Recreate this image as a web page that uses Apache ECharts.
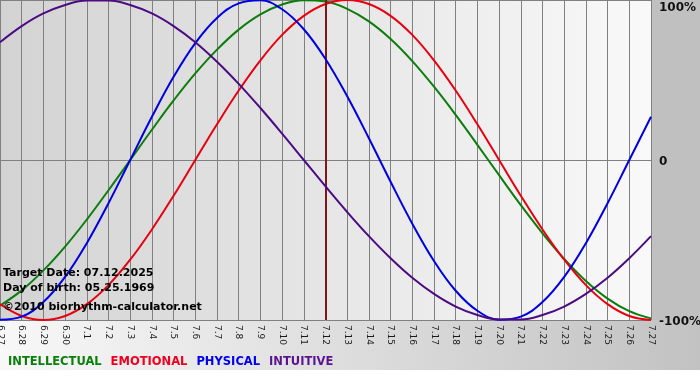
<!DOCTYPE html>
<html><head><meta charset="utf-8">
<script src="https://cdn.jsdelivr.net/npm/echarts@6/dist/echarts.min.js"></script>
<style>html,body{margin:0;padding:0;background:#fff}#c{width:700px;height:380px}</style>
</head><body><div id="c"></div>
<script>
const days = ['6.27','6.28','6.29','6.30','7.1','7.2','7.3','7.4','7.5','7.6','7.7','7.8','7.9','7.10','7.11','7.12','7.13','7.14','7.15','7.16','7.17','7.18','7.19','7.20','7.21','7.22','7.23','7.24','7.25','7.26','7.27'];
const intellectual = [-0.910,-0.815,-0.690,-0.541,-0.372,-0.189,0,0.189,0.372,0.541,0.690,0.815,0.910,0.972,0.999,0.990,0.945,0.866,0.756,0.618,0.458,0.282,0.095,-0.095,-0.282,-0.458,-0.618,-0.756,-0.866,-0.945,-0.990];
const emotional = [-0.901,-0.975,-1,-0.975,-0.901,-0.782,-0.623,-0.434,-0.223,0,0.223,0.434,0.623,0.782,0.901,0.975,1,0.975,0.901,0.782,0.623,0.434,0.223,0,-0.223,-0.434,-0.623,-0.782,-0.901,-0.975,-1];
const physical = [-0.998,-0.979,-0.888,-0.731,-0.520,-0.270,0,0.270,0.520,0.731,0.888,0.979,0.998,0.942,0.817,0.631,0.398,0.136,-0.136,-0.398,-0.631,-0.817,-0.942,-0.998,-0.979,-0.888,-0.731,-0.520,-0.270,0,0.270];
const intuitive = [0.736,0.837,0.916,0.969,0.997,0.997,0.969,0.916,0.837,0.736,0.614,0.476,0.325,0.165,0,-0.165,-0.325,-0.476,-0.614,-0.736,-0.837,-0.916,-0.969,-0.997,-0.997,-0.969,-0.916,-0.837,-0.736,-0.614,-0.476];
const yTickValues = [-1, 0, 1];
const yTickLabels = ['-100%', '0', '100%'];
const seriesNames = ['INTELLECTUAL', 'EMOTIONAL', 'PHYSICAL', 'INTUITIVE'];
const targetDay = '7.12';
const infoLines = ['Target Date: 07.12.2025', 'Day of birth: 05.25.1969', '\u00a92010 biorhythm-calculator.net'];

const lineColors = ['#0c7d0c', '#e80010', '#0000e0', '#4b0c82'];
const legendColors = ['#0a800a', '#f0001e', '#0000f0', '#5a1490'];
const seriesData = [intellectual, emotional, physical, intuitive];

const chart = echarts.init(document.getElementById('c'), null, {renderer: 'canvas'});

const series = seriesNames.map((name, i) => ({
  name: name,
  type: 'line',
  data: seriesData[i],
  smooth: 0.4,
  showSymbol: false,
  symbol: 'none',
  lineStyle: {color: lineColors[i], width: 2},
  itemStyle: {color: lineColors[i]},
  z: 3 + i,
  markLine: i === 0 ? {
    silent: true,
    symbol: ['none', 'none'],
    label: {show: false},
    lineStyle: {color: '#7d1818', width: 2, type: 'solid'},
    data: [{xAxis: targetDay}]
  } : undefined
}));

chart.setOption({
  animation: false,
  backgroundColor: '#ffffff',
  textStyle: {fontFamily: 'DejaVu Sans'},
  grid: {
    left: 0, right: 49, top: 0, bottom: 60,
    containLabel: false,
    outerBoundsMode: 'none',
    show: true,
    borderWidth: 0,
    backgroundColor: {type: 'linear', x: 0, y: 0, x2: 1, y2: 0,
      colorStops: [{offset: 0, color: '#d3d3d3'}, {offset: 1, color: '#f9f9f9'}]}
  },
  legend: {
    left: -2, top: 350,
    icon: 'none', itemWidth: 0, itemHeight: 14, itemGap: 4,
    selectedMode: false,
    textStyle: {fontFamily: 'DejaVu Sans', fontWeight: 'bold', fontSize: 11.5},
    data: seriesNames.map((n, i) => ({name: n, textStyle: {color: legendColors[i]}}))
  },
  xAxis: {
    type: 'category',
    data: days,
    boundaryGap: false,
    axisLine: {show: true, lineStyle: {color: '#808080', width: 1}},
    axisTick: {show: false},
    splitLine: {show: true, interval: 0, lineStyle: {color: '#808080', width: 1}},
    axisLabel: {
      interval: 0, rotate: -90, margin: 5,
      fontFamily: 'DejaVu Sans', fontSize: 9, color: '#1a1a1a'
    }
  },
  yAxis: {
    type: 'value',
    position: 'right',
    min: -1, max: 1, interval: 1,
    axisLine: {show: false},
    axisTick: {show: false},
    splitLine: {show: true, lineStyle: {color: '#808080', width: 1}},
    axisLabel: {
      margin: 8,
      formatter: function (v) {
        const idx = yTickValues.indexOf(v);
        const t = idx >= 0 ? yTickLabels[idx] : '';
        return v === 1 ? '{top|' + t + '}' : '{n|' + t + '}';
      },
      rich: {
        top: {fontFamily: 'DejaVu Sans', fontWeight: 'bold', fontSize: 12, color: '#111', padding: [15, 0, 0, 0]},
        n: {fontFamily: 'DejaVu Sans', fontWeight: 'bold', fontSize: 12, color: '#111', padding: [3, 0, 0, 0]}
      }
    }
  },
  graphic: [
    {type: 'rect', z: -10, silent: true, shape: {x: 651, y: 0, width: 49, height: 321},
     style: {fill: '#c0c0c0'}},
    {type: 'rect', z: -10, silent: true, shape: {x: 0, y: 320, width: 700, height: 50},
     style: {fill: new echarts.graphic.LinearGradient(0, 0, 1, 0, [
       {offset: 0, color: '#f8f8f8'}, {offset: 1, color: '#c2c2c2'}])}},
    {type: 'text', z: 100, silent: true, left: 3, top: 268,
     style: {text: infoLines[0], font: 'bold 11px "DejaVu Sans"', fill: '#000'}},
    {type: 'text', z: 100, silent: true, left: 3, top: 283,
     style: {text: infoLines[1], font: 'bold 11px "DejaVu Sans"', fill: '#000'}},
    {type: 'text', z: 100, silent: true, left: 3, top: 302,
     style: {text: infoLines[2], font: 'bold 11px "DejaVu Sans"', fill: '#000'}}
  ],
  series: series
});
</script>
</body></html>
